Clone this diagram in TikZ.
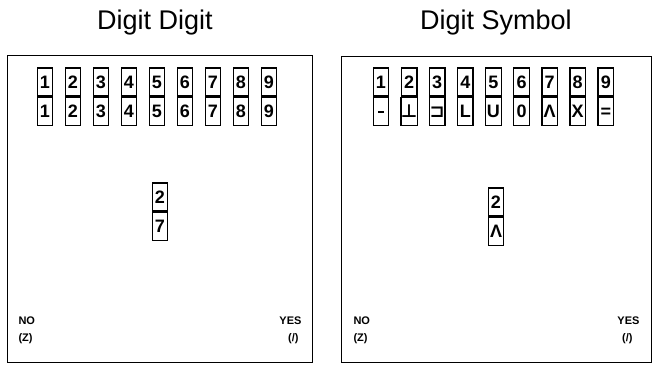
\documentclass[tikz,border=0pt]{standalone}
\usepackage{fontspec}
\setmainfont{Liberation Sans}
\newfontfamily\symfont{DejaVu Sans}
\usetikzlibrary{positioning}

\begin{document}
\begin{tikzpicture}[x=1pt,y=-1pt,
   panel/.style={draw,line width=1.2pt,anchor=north west,inner sep=0pt},
   cell/.style={draw,line width=1.3pt,minimum width=15.5pt,minimum height=28pt,
                inner sep=0pt,text height=12.5pt,text depth=0pt,
                font=\fontsize{18}{18}\selectfont\bfseries},
   title/.style={font=\fontsize{27}{30}\selectfont,anchor=base},
   answer/.style={font=\fontsize{11}{13}\selectfont\bfseries}]
  \useasboundingbox (0,0) rectangle (659,366);
  % the two screens
  \node[panel,minimum width=305pt,minimum height=307pt] (lpanel) at (7,55) {};
  \node[panel,minimum width=310pt,minimum height=306pt] (rpanel) at (341,56) {};
  \node[title] (ltitle) at (155,30) {Digit Digit};
  \node[title] (rtitle) at (496,30) {Digit Symbol};
  % key at the top of each screen
  \foreach \d [count=\i] in {1,...,9} {
    \node[cell] (lt\i) at ({45+28*(\i-1)},82) {\d};
    \node[cell,below=0pt of lt\i] (lb\i) {\d};
  }
  \foreach \d/\s [count=\i] in {1/{\rule[5pt]{6pt}{1.8pt}},2/{\symfont ⊥},3/{\symfont ⊐},
                                4/L,5/U,6/0,7/Λ,8/X,9/=} {
    \node[cell] (rt\i) at ({381+28.1*(\i-1)},82) {\d};
    \node[cell,below=0pt of rt\i] (rb\i) {\s};
  }
  % the pair shown for the trial
  \node[cell] (lq) at (160,197) {2};
  \node[cell,below=0pt of lq] (la) {7};
  \node[cell] (rq) at (496,202) {2};
  \node[cell,below=0pt of rq] (ra) {Λ};
  % answer labels
  \node[answer,anchor=west] (lno) at (15,321) {NO};
  \node[answer,anchor=west] (lz) at (15,339) {(Z)};
  \node[answer,anchor=east] (lyes) at (305,321) {YES};
  \node[answer,anchor=east] (lsl) at (302,339) {(/)};
  \node[answer,anchor=west] (rno) at (350,321) {NO};
  \node[answer,anchor=west] (rz) at (350,339) {(Z)};
  \node[answer,anchor=east] (ryes) at (643,321) {YES};
  \node[answer,anchor=east] (rsl) at (636,339) {(/)};
\end{tikzpicture}
\end{document}
